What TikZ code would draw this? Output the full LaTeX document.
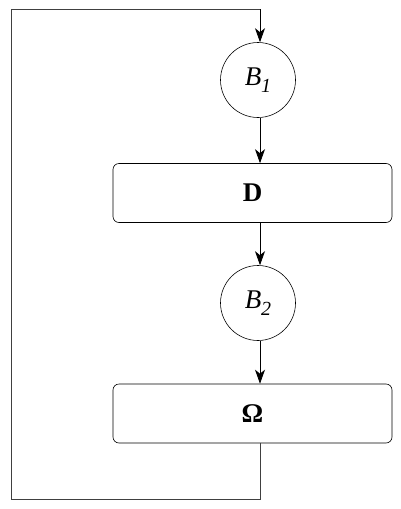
\documentclass[tikz,border=0pt]{standalone}
\usepackage{fontspec}
\setmainfont{Liberation Serif}
\usetikzlibrary{arrows.meta}
\begin{document}
\begin{tikzpicture}[x=1pt,y=-1pt,
  conn/.style={draw=black,line width=0.8pt},
  arr/.style={conn,-{Stealth[length=14pt,width=10pt,inset=4pt]}},
  loopline/.style={draw=black!75,line width=1pt},
  circ/.style={draw,circle,line width=0.6pt,minimum size=75pt,inner sep=0pt,font=\fontsize{27}{32}\selectfont\itshape},
  boxn/.style={draw,rounded corners=6pt,line width=0.6pt,minimum width=279pt,minimum height=59pt,inner sep=0pt,font=\fontsize{27}{32}\selectfont\bfseries}]
\useasboundingbox (0,0) rectangle (400,509);
\node[circ] (b1) at (258,80) {B\raisebox{-0.28em}{\fontsize{20}{22}\selectfont 1}};
\node[boxn] (d) at (252.5,193) {D};
\node[circ] (b2) at (258,303) {B\raisebox{-0.28em}{\fontsize{20}{22}\selectfont 2}};
\node[boxn] (om) at (252.5,413.5) {Ω};
\coordinate (c1) at (260,499);
\coordinate (c2) at (11,499);
\coordinate (c3) at (11,9);
\coordinate (c4) at (260,9);
\draw[loopline] (om.south -| c1) -- (c1) -- (c2) -- (c3) -- (c4);
\draw[arr] (c4) -- (b1.north -| c4);
\draw[arr] (b1.south -| c4) -- (d.north -| c4);
\draw[arr] (d.south -| c4) -- (b2.north -| c4);
\draw[arr] (b2.south -| c4) -- (om.north -| c4);
\end{tikzpicture}
\end{document}
